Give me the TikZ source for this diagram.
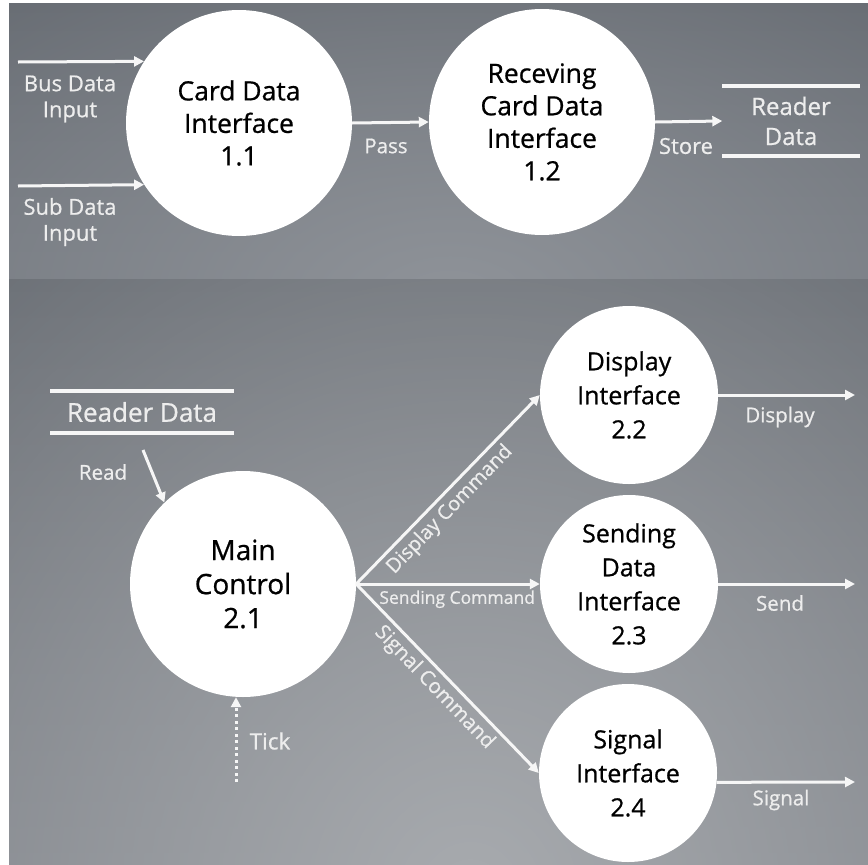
\documentclass[tikz,border=0pt]{standalone}
\usepackage{fontspec}
\setmainfont{Open Sans}[FakeBold=0.7]
\usetikzlibrary{arrows.meta,fadings}

\definecolor{topDark}{HTML}{5C6168}
\definecolor{topLow}{HTML}{6B7077}
\definecolor{topGlow}{HTML}{8F9399}
\definecolor{botDark}{HTML}{585D64}
\definecolor{botLow}{HTML}{70747B}
\definecolor{botGlow}{HTML}{A8ABAF}
\definecolor{flowWhite}{HTML}{F6F6F6}
\definecolor{labelWhite}{HTML}{EDEDED}

\tikzfading[name=glowfade, inner color=transparent!0, outer color=transparent!100]

\begin{document}
\begin{tikzpicture}[x=1pt,y=-1pt,
  proc/.style={circle, fill=white, draw=none, text=black, align=center, inner sep=0pt},
  bigproc/.style={proc, minimum size=226pt, font=\fontsize{26.5}{32.5}\selectfont},
  smallproc/.style={proc, minimum size=178pt, font=\fontsize{25}{34}\selectfont},
  flow/.style={draw=flowWhite, line width=3pt, -{Triangle[length=10pt,width=10pt]}},
  tickflow/.style={flow, dash pattern=on 3pt off 3.5pt},
  lbl/.style={text=labelWhite, font=\fontsize{20.5}{25}\selectfont, align=center, inner sep=0pt},
  cmdlbl/.style={text=labelWhite, font=\fontsize{20}{22}\selectfont, inner sep=0pt},
  datastore/.style={text=labelWhite, align=center, inner sep=0pt},
  storeline/.style={draw=flowWhite, line width=3.5pt}
]
\useasboundingbox (0,0) rectangle (868,865);
\fill[white] (0,0) rectangle (868,865);

% upper panel background
\shade[top color=topDark, bottom color=topLow] (9,3) rectangle (868,279);
\begin{scope}
  \clip (9,3) rectangle (868,279);
  \fill[topGlow, path fading=glowfade] (450,300) ellipse (900pt and 520pt);
\end{scope}

% lower panel background
\shade[top color=botDark, bottom color=botLow] (9,279) rectangle (868,865);
\begin{scope}
  \clip (9,279) rectangle (868,865);
  \fill[botGlow, path fading=glowfade] (470,900) ellipse (1000pt and 1100pt);
\end{scope}

% ---------- level 1: card data ----------
\node[bigproc] (c11) at (239,123) {Card Data\\Interface\\1.1};
\node[bigproc] (c12) at (542,122) {Receving\\Card Data\\Interface\\1.2};
\node[datastore, minimum width=137pt, minimum height=70pt,
      font=\fontsize{24}{30}\selectfont] (rd1) at (791,121) {Reader\\Data};
\draw[storeline] (rd1.north west) -- (rd1.north east);
\draw[storeline] (rd1.south west) -- (rd1.south east);

\coordinate (busin) at (18,62);
\coordinate (subin) at (18,186);
\draw[flow] (busin) -- (c11.147);
\draw[flow] (subin) -- (c11.213);
\draw[flow] (c11.east) -- (c12.west);
\draw[flow] (c12.east) -- (rd1.west);

\node[lbl, font=\fontsize{22}{26}\selectfont] (busl) at (70,99) {Bus Data\\Input};
\node[lbl, font=\fontsize{22}{26}\selectfont] (subl) at (70,222) {Sub Data\\Input};
\node[lbl] (passl) at (386,146) {Pass};
\node[lbl, font=\fontsize{22}{26}\selectfont] (storel) at (686,146) {Store};

% ---------- level 2: main control ----------
\node[datastore, minimum width=183pt, minimum height=42pt,
      font=\fontsize{26}{30}\selectfont] (rd2) at (142,412) {Reader Data};
\draw[storeline] (rd2.north west) -- (rd2.north east);
\draw[storeline] (rd2.south west) -- (rd2.south east);

\node[bigproc, font=\fontsize{28}{34}\selectfont] (main) at (243,584) {Main\\Control\\2.1};
\node[smallproc] (d22) at (629,395) {Display\\Interface\\2.2};
\node[smallproc] (s23) at (629,584) {Sending\\Data\\Interface\\2.3};
\node[smallproc] (g24) at (628,773) {Signal\\Interface\\2.4};

\coordinate (readfoot) at (143,450);
\draw[flow] (readfoot) -- (main.134);
\node[lbl] (readl) at (103,472) {Read};

\coordinate (tickfoot) at (236,782);
\draw[tickflow] (tickfoot) -- (tickfoot |- main.south);
\node[lbl, font=\fontsize{22.5}{25}\selectfont] (tickl) at (270,741) {Tick};

\draw[flow] (main.east) -- node[cmdlbl, sloped, below=4pt, pos=0.45] {Display Command} (d22.west);
\draw[flow] (main.east) -- node[cmdlbl, below=5pt, pos=0.55, font=\fontsize{17.5}{20}\selectfont] {Sending Command} (s23.west);
\draw[flow] (main.east) -- node[cmdlbl, sloped, below=4pt, pos=0.49, font=\fontsize{20.5}{22}\selectfont] {Signal Command} (g24.west);

\coordinate (outD) at (855,395);
\coordinate (outS) at (855,584);
\coordinate (outG) at (855,782);
\draw[flow] (d22.east) -- (outD);
\draw[flow] (s23.east) -- (outS);
\draw[flow] (g24.-6) -- (outG);
\node[lbl] (displ) at (780,417) {Display};
\node[lbl] (sendl) at (780,603) {Send};
\node[lbl] (sigl) at (781,800) {Signal};
\end{tikzpicture}
\end{document}
